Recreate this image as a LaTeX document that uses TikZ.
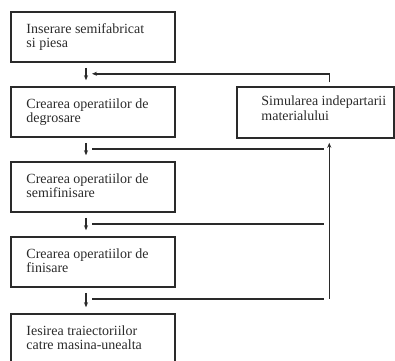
\documentclass[tikz,border=0pt]{standalone}
\usepackage{fontspec}
\setmainfont{Liberation Serif}
\usetikzlibrary{arrows.meta,calc}
\definecolor{ink}{HTML}{2A2A2A}
\tikzset{
  box/.style={draw=ink, line width=1.5pt, rectangle, inner sep=0pt},
  lbl/.style={anchor=base west, inner sep=0pt, align=left, text=ink,
    font=\fontsize{14}{14.5}\selectfont},
  conn/.style={draw=ink, line width=1.5pt},
  tip/.style={-{Stealth[length=5pt,width=4pt]}}
}
\begin{document}
\begin{tikzpicture}[x=1pt,y=1pt]
\useasboundingbox (0,0) rectangle (395,360);
% boxes
\node[box, minimum width=164pt, minimum height=50pt] (b1) at (93,323) {};
\node[box, minimum width=164pt, minimum height=50pt] (b2) at (93,248) {};
\node[box, minimum width=164pt, minimum height=50pt] (b3) at (93,173) {};
\node[box, minimum width=164pt, minimum height=50pt] (b4) at (93,98) {};
\node[box, minimum width=164pt, minimum height=50pt] (b5) at (93,21) {};
\node[box, minimum width=157pt, minimum height=51pt] (sim) at (315.5,247.5) {};
% texts (anchor = baseline of the last line)
\node[lbl] (t1) at ($(b1.north west)+(16,-36.5)$) {Inserare semifabricat\\si piesa};
\node[lbl] (t2) at ($(b2.north west)+(16,-36.5)$) {Crearea operatiilor de\\degrosare};
\node[lbl] (t3) at ($(b3.north west)+(16,-36.5)$) {Crearea operatiilor de\\semifinisare};
\node[lbl] (t4) at ($(b4.north west)+(16,-36.5)$) {Crearea operatiilor de\\finisare};
\node[lbl] (t5) at ($(b5.north west)+(16,-36.5)$) {Iesirea traiectoriilor\\catre masina-unealta};
\node[lbl] (ts) at ($(sim.north west)+(25,-34)$) {Simularea indepartarii\\materialului};
% down arrows
\foreach \a/\b in {b1/b2,b2/b3,b3/b4,b4/b5}{
  \coordinate (\a s) at ($(\a.south)+(-7,-5)$);
  \coordinate (\a e) at ($(\b.north)+(-7,6)$);
  \draw[conn,tip] (\a s) -- (\a e);
}
% feedback from simulation to top
\coordinate (simtop) at ($(sim.north west)+(93,4)$);
\coordinate (fbin) at ($(b1.south)+(-1,-11)$);
\draw[conn,tip] (simtop) |- (fbin);
% lines into simulation
\coordinate (simbot) at ($(sim.south west)+(93,-4)$);
\coordinate (h2s) at ($(b2.south)+(-1,-11)$);
\coordinate (h3s) at ($(b3.south)+(-1,-11)$);
\coordinate (h4s) at ($(b4.south)+(-1,-11)$);
\coordinate (vbot) at (simbot |- h4s);
\draw[conn] (h2s) -- ($(simbot |- h2s)+(-5,0)$);
\draw[conn] (h3s) -- ($(simbot |- h3s)+(-5,0)$);
\draw[conn] (h4s) -- ($(simbot |- h4s)+(-5,0)$);
\draw[conn,tip] (vbot) -- (simbot);
\end{tikzpicture}
\end{document}
